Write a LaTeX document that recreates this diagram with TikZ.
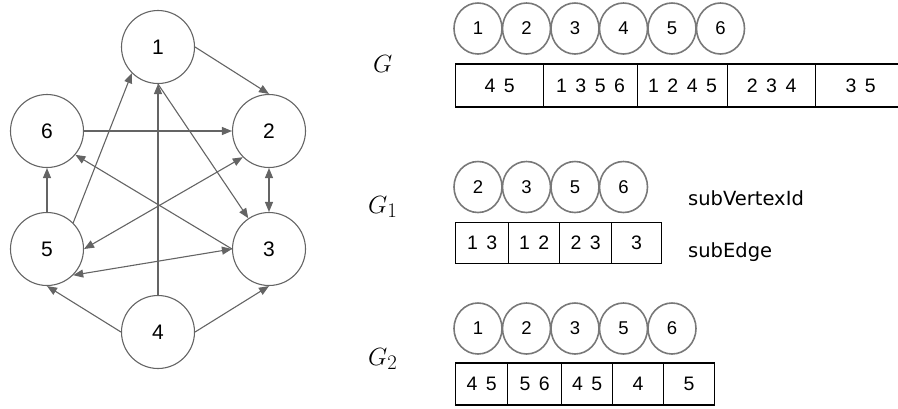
\documentclass[tikz,border=0pt]{standalone}
\usepackage{fontspec}
\setmainfont{Liberation Sans}
\newfontfamily\notefont{DejaVu Sans}
\usepackage{tikz}
\usetikzlibrary{shapes, arrows.meta, positioning}
\definecolor{edgegray}{RGB}{100, 100, 100}
\definecolor{ringgray}{RGB}{120, 120, 120}
\newcommand{\cellfont}{\fontsize{19.5}{21}\selectfont\spaceskip=8.5pt plus 0pt minus 0pt\relax}

\begin{document}
\begin{tikzpicture}[x=1pt, y=-1pt,
  gnode/.style={draw=edgegray, line width=1.1pt, circle, minimum size=73pt, inner sep=0pt, font=\fontsize{21}{23}\selectfont},
  gedge/.style={draw=edgegray, line width=1.1pt, -{Triangle[length=10pt, width=8pt]}},
  gboth/.style={gedge, {Triangle[length=10pt, width=8pt]}-{Triangle[length=10pt, width=8pt]}},
  vring/.style={draw=ringgray, line width=1.6pt, ellipse, minimum width=48pt, minimum height=51pt, inner sep=0pt, font=\fontsize{18.5}{20}\selectfont},
  ecell/.style={draw=black, line width=1.2pt, anchor=west, inner sep=0pt, font=\cellfont},
  glabel/.style={anchor=base west, inner sep=0pt, font=\fontsize{29}{31}\selectfont},
  note/.style={anchor=base west, inner sep=0pt, font=\notefont\fontsize{19.5}{22}\selectfont}
]
  \useasboundingbox (0,0) rectangle (898,408);

  % the graph
  \node[gnode] (n1) at (158,47) {1};
  \node[gnode] (n2) at (269,131) {2};
  \node[gnode] (n3) at (269,249) {3};
  \node[gnode] (n4) at (158,332) {4};
  \node[gnode] (n5) at (47,249) {5};
  \node[gnode] (n6) at (47,131) {6};

  \draw[gedge] (n1.east) -- (n2.north);
  \draw[gedge] (n6.east) -- (n2.west);
  \draw[gedge] (n1.south) -- (n3);
  \draw[gedge] (n4.north) -- (n1.south);
  \draw[gedge] (n5.north east) -- (n1.south west);
  \draw[gedge] (n5.north) -- (n6.south);
  \draw[gedge] (n3.west) -- (n6.-40);
  \draw[gboth] (n5.east) -- (n2.south west);
  \draw[gboth] (n2.south) -- (n3.north);
  \draw[gboth] (n5.south east) -- (n3.west);
  \draw[gedge] (n4.west) -- (n5.south);
  \draw[gedge] (n4.east) -- (n3.south);

  % G
  \node[glabel] (lg) at (373,72) {$G$};
  \foreach \v [count=\i] in {1,2,3,4,5,6}
    \node[vring] (gv\i) at (478+48.5*\i-48.5,28.5) {\v};
  \foreach \x/\w/\t [count=\i] in {455/88/4 5, 543/94/1 3 5 6, 637/90/1 2 4 5, 727/88/2 3 4, 815/90/3 5}
    \node[ecell, minimum width=\w pt, minimum height=43pt] (ge\i) at (\x,85.5) {\t};

  % G_1
  \node[glabel] (lg1) at (368,213) {$G_1$};
  \foreach \v [count=\i] in {2,3,5,6}
    \node[vring] (av\i) at (478+48.5*\i-48.5,187) {\v};
  \foreach \x/\w/\t [count=\i] in {455/53/1 3, 508/51/1 2, 559/52/2 3, 611/50/3}
    \node[ecell, minimum width=\w pt, minimum height=41pt] (ae\i) at (\x,243) {\t};
  \node[note] (sv) at (688,205) {subVertexId};
  \node[note] (se) at (688,257) {subEdge};

  % G_2
  \node[glabel] (lg2) at (368,365) {$G_2$};
  \foreach \v [count=\i] in {1,2,3,5,6}
    \node[vring] (bv\i) at (478+48.5*\i-48.5,328.5) {\v};
  \foreach \x/\w/\t [count=\i] in {455/52/4 5, 507/54/5 6, 561/51/4 5, 612/51/4, 663/51/5}
    \node[ecell, minimum width=\w pt, minimum height=42pt] (be\i) at (\x,384) {\t};
\end{tikzpicture}
\end{document}
